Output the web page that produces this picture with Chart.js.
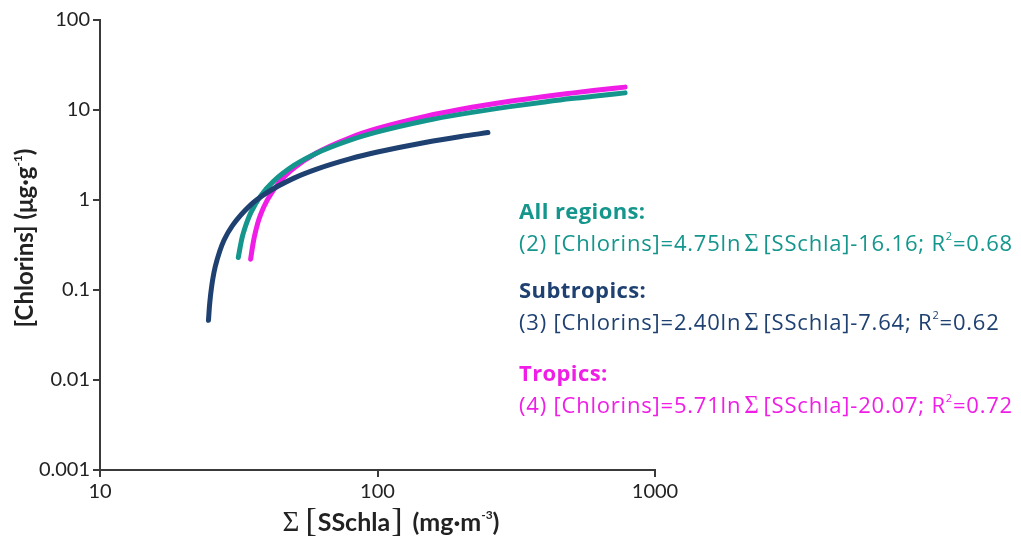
<!DOCTYPE html>
<html>
<head>
<meta charset="utf-8">
<script src="https://cdn.jsdelivr.net/npm/chart.js@4"></script>
<style>
  html, body { margin: 0; padding: 0; background: #fff; }
  #wrap { width: 1021px; height: 540px; position: relative; }
</style>
</head>
<body>
<div id="wrap"><canvas id="fitChart"></canvas></div>
<script>
const xTicks = [10, 100, 1000];
const yTicks = [0.001, 0.01, 0.1, 1, 10, 100];

// fitted curves
const allX = [31.5, 32, 32.5, 33, 34, 35, 38, 42, 50, 60, 80, 100, 150, 200, 300, 400, 500, 600, 780];
const allY = [0.23, 0.30, 0.38, 0.45, 0.59, 0.73, 1.12, 1.59, 2.42, 3.29, 4.65, 5.71, 7.64, 9.0, 10.9, 12.3, 13.4, 14.2, 15.5];

const subX = [24.6, 24.8, 25, 25.2, 25.5, 26, 27, 28, 30, 35, 40, 50, 60, 80, 100, 150, 200, 250];
const subY = [0.046, 0.066, 0.085, 0.104, 0.133, 0.18, 0.27, 0.36, 0.52, 0.89, 1.21, 1.75, 2.19, 2.88, 3.41, 4.39, 5.08, 5.61];

const tropX = [34.9, 35.5, 36, 37, 38, 40, 45, 50, 60, 80, 100, 150, 200, 300, 400, 500, 600, 780];
const tropY = [0.22, 0.31, 0.39, 0.55, 0.70, 0.99, 1.67, 2.27, 3.31, 4.95, 6.23, 8.54, 10.18, 12.5, 14.14, 15.4, 16.46, 17.95];

const seriesNames = ['All regions:', 'Subtropics:', 'Tropics:'];
const eqNumbers = ['(2)', '(3)', '(4)'];
const eqSlopes = ['4.75', '2.40', '5.71'];
const eqIntercepts = ['16.16', '7.64', '20.07'];
const eqR2 = ['0.68', '0.62', '0.72'];

const TEAL = '#14968d';
const NAVY = '#1f4171';
const MAGENTA = '#f01de6';
const AXIS = '#3a3a3a';
const FONT = 'Lato, "Open Sans", sans-serif';
const NOTE_FONT = '"Open Sans", Lato, sans-serif';
const SERIF = '"Liberation Serif", "DejaVu Serif", serif';

function toPoints(xs, ys) {
  return xs.map((x, i) => ({ x: x, y: ys[i] }));
}

function lineSet(label, xs, ys, color) {
  return {
    label: label,
    data: toPoints(xs, ys),
    showLine: true,
    borderColor: color,
    backgroundColor: color,
    borderWidth: 5,
    borderCapStyle: 'round',
    pointRadius: 0,
    cubicInterpolationMode: 'monotone',
    fill: false
  };
}

// draw a row of text pieces with their own fonts / baseline shifts
function drawParts(ctx, x, y, parts, align, spacing) {
  ctx.letterSpacing = spacing || '0px';
  let total = 0;
  parts.forEach(p => { ctx.font = p.font; total += ctx.measureText(p.text).width + (p.gap || 0); });
  let cx = align === 'center' ? x - total / 2 : x;
  ctx.textAlign = 'left';
  ctx.textBaseline = 'alphabetic';
  parts.forEach(p => {
    ctx.font = p.font;
    ctx.fillStyle = p.color;
    ctx.fillText(p.text, cx, y + (p.dy || 0));
    cx += ctx.measureText(p.text).width + (p.gap || 0);
  });
  ctx.letterSpacing = '0px';
}

const labelsPlugin = {
  id: 'labelsPlugin',
  afterDraw(chart) {
    const ctx = chart.ctx;
    ctx.save();

    // x axis title
    drawParts(ctx, 391, 531, [
      { text: '\u03A3', font: '29px ' + SERIF, color: '#222', gap: 6 },
      { text: '[', font: '34px ' + SERIF, color: '#222', gap: 1 },
      { text: 'SSchla', font: 'bold 25px ' + FONT, color: '#222', gap: 1 },
      { text: ']', font: '34px ' + SERIF, color: '#222', gap: 10 },
      { text: '(mg\u00B7m', font: 'bold 25px ' + FONT, color: '#222' },
      { text: '-3', font: 'bold 12px ' + FONT, color: '#222', dy: -12 },
      { text: ')', font: 'bold 25px ' + FONT, color: '#222' }
    ], 'center');

    // y axis title
    ctx.translate(33, 238);
    ctx.rotate(-Math.PI / 2);
    drawParts(ctx, 0, 0, [
      { text: '[Chlorins] (\u03BCg\u00B7g', font: 'bold 24px ' + FONT, color: '#222' },
      { text: '-1', font: 'bold 12px ' + FONT, color: '#222', dy: -11 },
      { text: ')', font: 'bold 24px ' + FONT, color: '#222' }
    ], 'center');
    ctx.setTransform(1, 0, 0, 1, 0, 0);

    // regression equations
    const colors = [TEAL, NAVY, MAGENTA];
    const tops = [219, 298, 381];
    seriesNames.forEach((name, i) => {
      const c = colors[i];
      ctx.font = 'bold 22px ' + NOTE_FONT;
      ctx.letterSpacing = '0.4px';
      ctx.fillStyle = c;
      ctx.textAlign = 'left';
      ctx.fillText(name, 519, tops[i]);
      drawParts(ctx, 519, tops[i] + 32, [
        { text: eqNumbers[i] + ' [Chlorins]=' + eqSlopes[i] + 'ln', font: '22px ' + NOTE_FONT, color: c, gap: 3 },
        { text: '\u03A3', font: '25px ' + SERIF, color: c, gap: 4 },
        { text: '[SSchla]-' + eqIntercepts[i] + '; R', font: '22px ' + NOTE_FONT, color: c },
        { text: '2', font: '11px ' + NOTE_FONT, color: c, dy: -11 },
        { text: '=' + eqR2[i], font: '22px ' + NOTE_FONT, color: c }
      ], 'left', '0.8px');
    });
    ctx.restore();
  }
};

function axisCommon(ticks) {
  return {
    type: 'logarithmic',
    afterBuildTicks: s => { s.ticks = ticks.map(v => ({ value: v })); },
    border: { display: true, color: AXIS, width: 2 },
    grid: { drawOnChartArea: false, drawTicks: true, tickLength: 7, color: AXIS, lineWidth: 2 },
    ticks: {
      color: '#222',
      font: { family: FONT, size: 20 },
      padding: 3,
      autoSkip: false,
      maxRotation: 0,
      callback: v => String(v)
    }
  };
}

const xAxis = Object.assign(axisCommon(xTicks), {
  min: xTicks[0], max: xTicks[xTicks.length - 1],
  afterFit: s => { s.height = 70; }
});
const yAxis = Object.assign(axisCommon(yTicks), {
  min: yTicks[0], max: yTicks[yTicks.length - 1],
  afterFit: s => { s.width = 100; }
});

new Chart(document.getElementById('fitChart').getContext('2d'), {
  type: 'scatter',
  data: {
    datasets: [
      lineSet('Subtropics', subX, subY, NAVY),
      lineSet('All regions', allX, allY, TEAL),
      lineSet('Tropics', tropX, tropY, MAGENTA)
    ]
  },
  options: {
    responsive: true,
    maintainAspectRatio: false,
    animation: false,
    layout: { padding: { left: 0, right: 366, top: 20, bottom: 0 } },
    plugins: { legend: { display: false }, tooltip: { enabled: false } },
    scales: { x: xAxis, y: yAxis }
  },
  plugins: [labelsPlugin]
});
</script>
</body>
</html>
